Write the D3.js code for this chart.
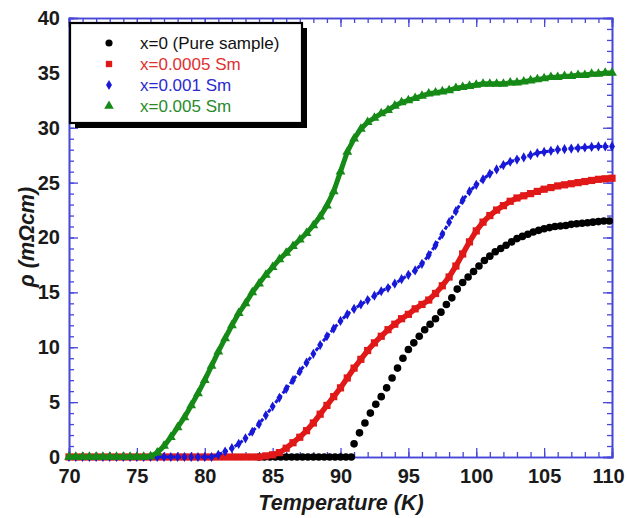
<!DOCTYPE html>
<html><head><meta charset="utf-8">
<script src="https://cdn.jsdelivr.net/npm/d3@7/dist/d3.min.js"></script>
<style>body{margin:0;background:#fff}</style>
</head><body>
<svg id="chart" width="627" height="518"></svg>
<script>
// ---- data ----
const temps = [70,70.5,71,71.5,72,72.5,73,73.5,74,74.5,75,75.5,76,76.5,77,77.5,78,78.5,79,79.5,
80,80.5,81,81.5,82,82.5,83,83.5,84,84.5,85,85.5,86,86.5,87,87.5,88,88.5,89,89.5,
90,90.5,91,91.5,92,92.5,93,93.5,94,94.5,95,95.5,96,96.5,97,97.5,98,98.5,99,99.5,
100,100.5,101,101.5,102,102.5,103,103.5,104,104.5,105,105.5,106,106.5,107,107.5,108,108.5,109,109.5,110];
const greenRho = [0,0,0,0,0,0,0,0,0,0,0,0,0.05,0.4,1.0,1.8,2.7,3.6,4.7,5.8,
7.0,8.3,9.6,10.8,12.0,13.1,14.0,15.0,15.8,16.6,17.3,18.0,18.6,19.2,19.8,20.4,21.1,21.9,22.9,24.2,
26.0,27.8,29.0,29.9,30.5,30.9,31.3,31.6,32.0,32.3,32.5,32.7,32.9,33.1,33.2,33.3,33.4,33.6,33.7,33.8,
33.9,34.0,34.0,34.0,34.0,34.1,34.1,34.2,34.3,34.4,34.5,34.6,34.6,34.7,34.7,34.8,34.8,34.9,34.9,35.0,35.0];
const blueRho = [0,0,0,0,0,0,0,0,0,0,0,0,0,0,0,0,0,0,0,0,
0,0,0.2,0.5,0.8,1.2,1.7,2.3,3.0,3.8,4.6,5.4,6.2,7.0,7.8,8.6,9.4,10.2,11.0,11.7,
12.4,13.0,13.5,13.9,14.3,14.7,15.1,15.4,15.8,16.2,16.6,17.0,17.6,18.4,19.3,20.3,21.4,22.4,23.4,24.2,
24.8,25.3,25.8,26.2,26.6,26.9,27.1,27.3,27.5,27.7,27.8,27.9,28.0,28.05,28.1,28.15,28.2,28.25,28.3,28.3,28.3];
const redRho = [0,0,0,0,0,0,0,0,0,0,0,0,0,0,0,0,0,0,0,0,
0,0,0,0,0,0,0,0,0,0.1,0.2,0.4,0.8,1.3,1.8,2.4,3.1,3.9,4.7,5.5,
6.3,7.2,8.1,8.9,9.7,10.4,11.0,11.6,12.1,12.6,13.0,13.5,13.9,14.3,14.9,15.6,16.4,17.4,18.5,19.6,
20.6,21.4,22.0,22.5,22.9,23.3,23.6,23.8,24.0,24.2,24.4,24.55,24.7,24.8,24.9,25.0,25.1,25.2,25.3,25.35,25.4];
const blackT = [84.0,84.4,84.8,85.2,85.6,86.0,86.4,86.8,87.2,87.6,88.0,88.4,88.8,89.2,89.6,90.0,90.4,90.8,
91.0,91.4,91.8,92.2,92.6,93.0,93.4,93.8,94.2,94.6,95.0,95.4,95.8,96.2,96.6,97.0,97.4,97.8,98.2,98.6,
99.0,99.4,99.8,100.2,100.6,101.0,101.4,101.8,102.2,102.6,103.0,103.4,103.8,104.2,104.6,105.0,105.4,105.8,
106.2,106.6,107.0,107.4,107.8,108.2,108.6,109.0,109.4,109.8];
const blackRho = [0,0,0,0,0,0,0,0,0,0,0,0,0,0,0,0,0,0,
1.2,2.2,3.1,4.0,4.8,5.5,6.3,7.2,8.1,9.0,9.8,10.4,11.0,11.6,12.1,12.6,13.2,13.9,14.5,15.3,
15.9,16.4,16.9,17.4,17.9,18.3,18.7,19.0,19.3,19.6,19.9,20.1,20.3,20.5,20.65,20.8,20.9,21.0,
21.05,21.1,21.2,21.25,21.3,21.35,21.4,21.45,21.5,21.5];
const seriesNames = ["x=0 (Pure sample)","x=0.0005 Sm","x=0.001 Sm","x=0.005 Sm"];
const xTicks = [70,75,80,85,90,95,100,105,110];
const yTicks = [0,5,10,15,20,25,30,35,40];
const xLabel = "Temperature (K)";
const yLabel = "\u03C1 (m\u03A9cm)";

// ---- layout ----
const svg = d3.select("#chart");
const L = 69, R = 612, T = 18, B = 457;
const x = d3.scaleLinear().domain([70,110]).range([L,R]);
const y = d3.scaleLinear().domain([0,40]).range([B,T]);
const axisCol = "#4646d8";
const cols = {black:"#000000", red:"#e01818", blue:"#1818d8", green:"#168a16"};
const font = "Arial, 'Liberation Sans', sans-serif";

const pts = (xs, ys) => xs.map((t,i)=>[t, ys[i]]);
const black = pts(blackT, blackRho);
const red = pts(temps, redRho);
const blue = pts(temps, blueRho);
const green = pts(temps, greenRho);

// axes
const minorX = d3.range(70,111,1), minorY = d3.range(0,41,1);
function styleAxis(g){
  g.selectAll("path.domain").attr("stroke", axisCol).attr("stroke-width", 1.6);
  g.selectAll(".tick line").attr("stroke", axisCol).attr("stroke-width", 1.3);
}
// minor
svg.append("g").attr("transform",`translate(0,${B})`).call(d3.axisBottom(x).tickValues(minorX).tickSize(-5).tickFormat("")).call(styleAxis);
svg.append("g").attr("transform",`translate(0,${T})`).call(d3.axisTop(x).tickValues(minorX).tickSize(-5).tickFormat("")).call(styleAxis);
svg.append("g").attr("transform",`translate(${L},0)`).call(d3.axisLeft(y).tickValues(minorY).tickSize(-5).tickFormat("")).call(styleAxis);
svg.append("g").attr("transform",`translate(${R},0)`).call(d3.axisRight(y).tickValues(minorY).tickSize(-5).tickFormat("")).call(styleAxis);
// major
const gx = svg.append("g").attr("transform",`translate(0,${B})`).call(d3.axisBottom(x).tickValues(xTicks).tickSize(-9).tickPadding(12).tickFormat(d3.format("d"))).call(styleAxis);
svg.append("g").attr("transform",`translate(0,${T})`).call(d3.axisTop(x).tickValues(xTicks).tickSize(-9).tickFormat("")).call(styleAxis);
const gy = svg.append("g").attr("transform",`translate(${L},0)`).call(d3.axisLeft(y).tickValues(yTicks).tickSize(-9).tickPadding(9).tickFormat(d3.format("d"))).call(styleAxis);
svg.append("g").attr("transform",`translate(${R},0)`).call(d3.axisRight(y).tickValues(yTicks).tickSize(-9).tickFormat("")).call(styleAxis);
[gx,gy].forEach(g=>g.selectAll("text").attr("font-family",font).attr("font-size",20).attr("font-weight","bold").attr("fill","#1a1a1a"));
gx.selectAll(".tick text").filter(d=>d===110).attr("dx",-4);

// titles
svg.append("text").attr("x",341).attr("y",510).attr("text-anchor","middle")
  .attr("font-family",font).attr("font-size",21.5).attr("font-weight","bold").attr("font-style","italic").attr("fill","#1a1a1a").text(xLabel);
svg.append("text").attr("transform","translate(34,237) rotate(-90)").attr("text-anchor","middle")
  .attr("font-family",font).attr("font-size",21.5).attr("font-weight","bold").attr("font-style","italic").attr("fill","#1a1a1a").text(yLabel);

// series
const line = d3.line().x(d=>x(d[0])).y(d=>y(d[1]));
const plot = svg.append("g");
// black dots
plot.append("g").selectAll("circle").data(black).join("circle")
  .attr("cx",d=>x(d[0])).attr("cy",d=>y(d[1])).attr("r",3.8).attr("fill",cols.black);
// red squares
plot.append("path").datum(red).attr("d",line).attr("fill","none").attr("stroke",cols.red).attr("stroke-width",5.5);
plot.append("g").selectAll("rect").data(red).join("rect")
  .attr("x",d=>x(d[0])-3.6).attr("y",d=>y(d[1])-3.6).attr("width",7.2).attr("height",7.2).attr("fill",cols.red);
// blue diamonds
plot.append("path").datum(blue).attr("d",line).attr("fill","none").attr("stroke",cols.blue).attr("stroke-width",3).attr("stroke-dasharray","4,2");
plot.append("g").selectAll("path").data(blue).join("path")
  .attr("transform",d=>`translate(${x(d[0])},${y(d[1])})`).attr("d",d3.symbol(d3.symbolDiamond,30)).attr("fill",cols.blue);
// green triangles
plot.append("path").datum(green).attr("d",line).attr("fill","none").attr("stroke",cols.green).attr("stroke-width",5);
plot.append("g").selectAll("path").data(green).join("path")
  .attr("transform",d=>`translate(${x(d[0])},${y(d[1])})`).attr("d",d3.symbol(d3.symbolTriangle,42)).attr("fill",cols.green);

// legend
const lg = svg.append("g");
lg.append("rect").attr("x",75).attr("y",28).attr("width",232).attr("height",100).attr("fill","#000");
lg.append("rect").attr("x",70).attr("y",23).attr("width",232).attr("height",100).attr("fill","#fff").attr("stroke","#000").attr("stroke-width",2.2);
const legCols = [cols.black, cols.red, cols.blue, cols.green];
const textCols = ["#111", "#e03030", "#2a2ad0", "#2a8a2a"];
const syms = [d3.symbolCircle, d3.symbolSquare, d3.symbolDiamond, d3.symbolTriangle];
const symSize = [40, 40, 30, 40];
seriesNames.forEach((name,i)=>{
  const cy = 43 + i*21;
  lg.append("path").attr("transform",`translate(109,${cy})`).attr("d",d3.symbol(syms[i],symSize[i])).attr("fill",legCols[i]);
  lg.append("text").attr("x",140).attr("y",cy+6).attr("font-family",font).attr("font-size",17).attr("fill",textCols[i]).text(name);
});
</script>
</body></html>
